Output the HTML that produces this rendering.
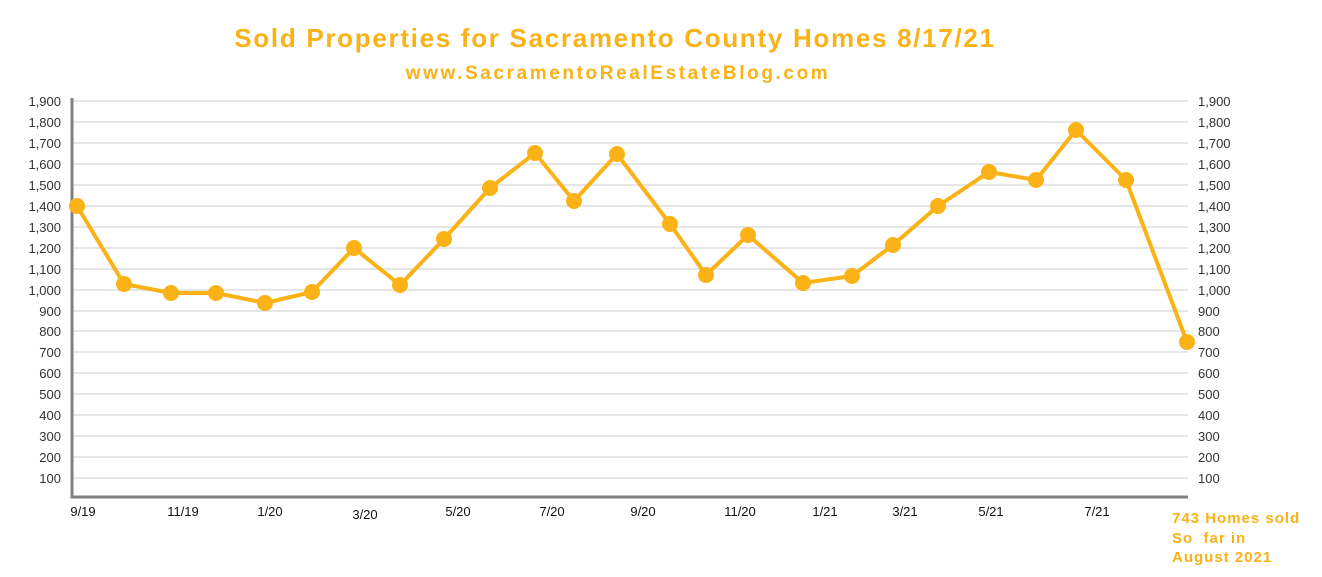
<!DOCTYPE html>
<html><head><meta charset="utf-8"><style>body{margin:0;background:#fff}svg{display:block}</style></head>
<body>
<svg width="1322" height="577" xmlns="http://www.w3.org/2000/svg" font-family="Liberation Sans, sans-serif">
<text x="615" y="47" text-anchor="middle" font-size="26" font-weight="bold" fill="#fbb217" letter-spacing="1.7">Sold Properties for Sacramento County Homes 8/17/21</text>
<text x="618" y="79" text-anchor="middle" font-size="19" font-weight="bold" fill="#fbb217" letter-spacing="2.6">www.SacramentoRealEstateBlog.com</text>
<g stroke="#e6e6e6" stroke-width="2">
<line x1="72" x2="1188" y1="101" y2="101"/><line x1="72" x2="1188" y1="122" y2="122"/><line x1="72" x2="1188" y1="143" y2="143"/><line x1="72" x2="1188" y1="164" y2="164"/><line x1="72" x2="1188" y1="185" y2="185"/><line x1="72" x2="1188" y1="206" y2="206"/><line x1="72" x2="1188" y1="227" y2="227"/><line x1="72" x2="1188" y1="248" y2="248"/><line x1="72" x2="1188" y1="269" y2="269"/><line x1="72" x2="1188" y1="290" y2="290"/><line x1="72" x2="1188" y1="311" y2="311"/><line x1="72" x2="1188" y1="331" y2="331"/><line x1="72" x2="1188" y1="352" y2="352"/><line x1="72" x2="1188" y1="373" y2="373"/><line x1="72" x2="1188" y1="394" y2="394"/><line x1="72" x2="1188" y1="415" y2="415"/><line x1="72" x2="1188" y1="436" y2="436"/><line x1="72" x2="1188" y1="457" y2="457"/><line x1="72" x2="1188" y1="478" y2="478"/>
</g>
<path d="M72 98V497H1188" fill="none" stroke="#808080" stroke-width="3"/>
<g font-size="13" fill="#333" text-anchor="end">
<text x="61" y="106">1,900</text><text x="61" y="127">1,800</text><text x="61" y="148">1,700</text><text x="61" y="169">1,600</text><text x="61" y="190">1,500</text><text x="61" y="211">1,400</text><text x="61" y="232">1,300</text><text x="61" y="253">1,200</text><text x="61" y="274">1,100</text><text x="61" y="295">1,000</text><text x="61" y="316">900</text><text x="61" y="336">800</text><text x="61" y="357">700</text><text x="61" y="378">600</text><text x="61" y="399">500</text><text x="61" y="420">400</text><text x="61" y="441">300</text><text x="61" y="462">200</text><text x="61" y="483">100</text>
</g>
<g font-size="13" fill="#333">
<text x="1198" y="106">1,900</text><text x="1198" y="127">1,800</text><text x="1198" y="148">1,700</text><text x="1198" y="169">1,600</text><text x="1198" y="190">1,500</text><text x="1198" y="211">1,400</text><text x="1198" y="232">1,300</text><text x="1198" y="253">1,200</text><text x="1198" y="274">1,100</text><text x="1198" y="295">1,000</text><text x="1198" y="316">900</text><text x="1198" y="336">800</text><text x="1198" y="357">700</text><text x="1198" y="378">600</text><text x="1198" y="399">500</text><text x="1198" y="420">400</text><text x="1198" y="441">300</text><text x="1198" y="462">200</text><text x="1198" y="483">100</text>
</g>
<g font-size="13" fill="#111" text-anchor="middle">
<text x="83" y="516">9/19</text><text x="183" y="516">11/19</text><text x="270" y="516">1/20</text><text x="365" y="519">3/20</text><text x="458" y="516">5/20</text><text x="552" y="516">7/20</text><text x="643" y="516">9/20</text><text x="740" y="516">11/20</text><text x="825" y="516">1/21</text><text x="905" y="516">3/21</text><text x="991" y="516">5/21</text><text x="1097" y="516">7/21</text>
</g>
<polyline fill="none" stroke="#fbb217" stroke-width="4" stroke-linejoin="round" points="77,206 124,284 171,293 216,293 265,303 312,292 354,248 400,285 444,239 490,188 535,153 574,201 617,154 670,224 706,275 748,235 803,283 852,276 893,245 938,206 989,172 1036,180 1076,130 1126,180 1187,342"/>
<g fill="#fbb217">
<circle cx="77" cy="206" r="8"/><circle cx="124" cy="284" r="8"/><circle cx="171" cy="293" r="8"/><circle cx="216" cy="293" r="8"/><circle cx="265" cy="303" r="8"/><circle cx="312" cy="292" r="8"/><circle cx="354" cy="248" r="8"/><circle cx="400" cy="285" r="8"/><circle cx="444" cy="239" r="8"/><circle cx="490" cy="188" r="8"/><circle cx="535" cy="153" r="8"/><circle cx="574" cy="201" r="8"/><circle cx="617" cy="154" r="8"/><circle cx="670" cy="224" r="8"/><circle cx="706" cy="275" r="8"/><circle cx="748" cy="235" r="8"/><circle cx="803" cy="283" r="8"/><circle cx="852" cy="276" r="8"/><circle cx="893" cy="245" r="8"/><circle cx="938" cy="206" r="8"/><circle cx="989" cy="172" r="8"/><circle cx="1036" cy="180" r="8"/><circle cx="1076" cy="130" r="8"/><circle cx="1126" cy="180" r="8"/><circle cx="1187" cy="342" r="8"/>
</g>
<g font-size="15" font-weight="bold" fill="#fbb217" letter-spacing="1">
<text x="1172" y="523">743 Homes sold</text><text x="1172" y="543" xml:space="preserve">So  far in</text><text x="1172" y="562">August 2021</text>
</g>
</svg>
</body></html>
